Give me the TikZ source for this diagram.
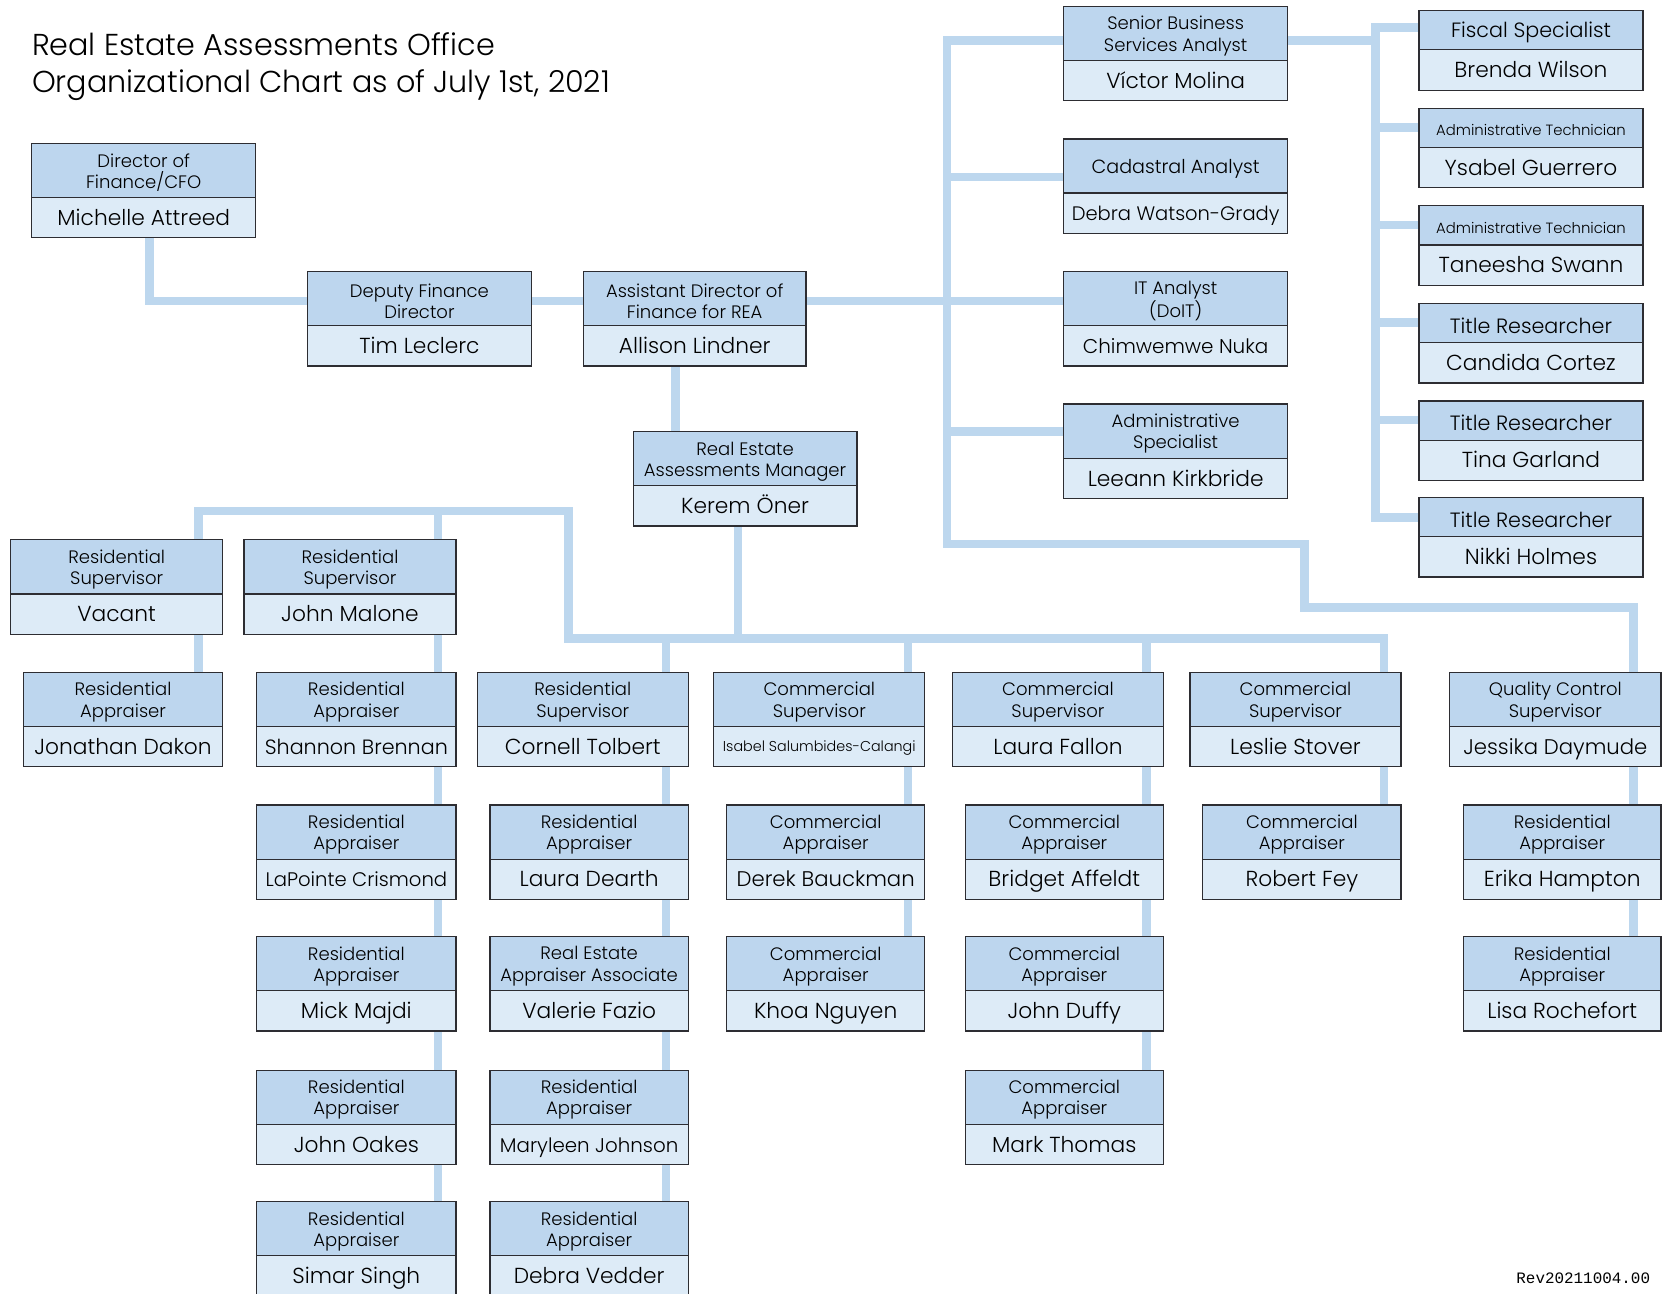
\documentclass[tikz,border=0pt]{standalone}
\usepackage{fontspec}
\setmainfont{Poppins Light}
\setmonofont{Liberation Mono}
\usetikzlibrary{fit}
\definecolor{connc}{RGB}{189,215,238}
\definecolor{titlefill}{RGB}{189,214,238}
\definecolor{namefill}{RGB}{221,235,247}
\definecolor{boxborder}{RGB}{45,45,50}
\newcommand\oTf{\fontsize{17}{20}\selectfont}
\newcommand\oNf{\fontsize{20.5}{22}\selectfont}
\newcommand\oSf{\fontsize{14}{15}\selectfont}
\newcommand\oBf{\fontsize{19.5}{21}\selectfont}
\newcommand\fsz[1]{\fontsize{#1}{#1}\selectfont}
\newcommand\orgbox[9]{%
  \fill[titlefill] (#2,#3) rectangle (#4,#6);
  \fill[namefill] (#2,#6) rectangle (#4,#5);
  \draw[boxborder, line width=1.1pt] (#2,#6) -- (#4,#6);
  \node[fit={(#2,#3) (#4,#5)}, draw=boxborder, line width=1.2pt, inner sep=0pt] (#1) {};
  \node[font=#7, align=center, inner sep=0pt, yshift=-2.5pt] (#1t) at ({(#2+#4)/2},{(#3+#6)/2}) {#8};
  \node[font=\oNf, inner sep=0pt, text height=14.5pt, text depth=0pt] (#1n) at ({(#2+#4)/2},{(#6+#5)/2}) {#9};
}
\begin{document}
\begin{tikzpicture}[x=1pt,y=-1pt,
  conn/.style={draw=connc, line width=8pt, line join=miter, line cap=rect}]
\useasboundingbox (0,0) rectangle (1568,1220);
\clip (0,0) rectangle (1568,1220);
\fill[white] (0,0) rectangle (1568,1220);

% coordinates for connector lines
\coordinate (c141) at (141,0);
\coordinate (cM) at (637,0);
\coordinate (cR) at (696,0);
\coordinate (cA) at (187,0);
\coordinate (cB) at (413,0);
\coordinate (cC) at (628,0);
\coordinate (cD) at (856,0);
\coordinate (cE) at (1081,0);
\coordinate (cF) at (1305,0);
\coordinate (cG) at (1540,0);
\coordinate (t1) at (893,38);
\coordinate (t2) at (893,167);
\coordinate (t3) at (893,407);
\coordinate (t4) at (893,513);
\coordinate (t5) at (1230,513);
\coordinate (t6) at (1230,573);
\coordinate (t7) at (1540,573);
\coordinate (r0) at (1297,38);
\coordinate (r1) at (1297,26);
\coordinate (r2) at (1297,120);
\coordinate (r3) at (1297,212);
\coordinate (r4) at (1297,304);
\coordinate (r5) at (1297,396);
\coordinate (r6) at (1297,488);
\coordinate (h1) at (187,482);
\coordinate (h2) at (536,482);
\coordinate (h3) at (536,602);
\coordinate (h4) at (1305,602);
\coordinate (m1) at (696,602);

% ---- boxes ----
\newcommand\allboxes{%
\orgbox{dir}{30}{135}{241}{224}{186}{\oTf}{Director of\\Finance/CFO}{Michelle Attreed}
\orgbox{dep}{290}{256}{501}{345}{307}{\oTf}{Deputy Finance\\Director}{Tim Leclerc}
\orgbox{ast}{550}{256}{760}{345}{307}{\oTf}{Assistant Director of\\Finance for REA}{Allison Lindner}
\orgbox{rem}{597}{407}{808}{496}{458}{\oTf}{Real Estate\\Assessments Manager}{Kerem Öner}
\orgbox{sba}{1003}{6}{1214}{95}{57}{\oTf}{Senior Business\\Services Analyst}{Víctor Molina}
\orgbox{cad}{1003}{131}{1214}{220}{182}{\fsz{18}}{Cadastral Analyst}{{\fsz{18.4}Debra Watson-Grady}}
\orgbox{ita}{1003}{256}{1214}{345}{307}{\oTf}{IT Analyst\\(DoIT)}{{\fsz{18.8}Chimwemwe Nuka}}
\orgbox{ads}{1003}{381}{1214}{470}{432}{\oTf}{Administrative\\Specialist}{Leeann Kirkbride}
\orgbox{fis}{1338}{10}{1549}{85}{47}{\oBf}{Fiscal Specialist}{Brenda Wilson}
\orgbox{atA}{1338}{102}{1549}{177}{139}{\oSf}{Administrative Technician}{Ysabel Guerrero}
\orgbox{atB}{1338}{194}{1549}{269}{231}{\oSf}{Administrative Technician}{Taneesha Swann}
\orgbox{trA}{1338}{286}{1549}{361}{323}{\oBf}{Title Researcher}{Candida Cortez}
\orgbox{trB}{1338}{378}{1549}{453}{415}{\oBf}{Title Researcher}{Tina Garland}
\orgbox{trC}{1338}{469}{1549}{544}{506}{\oBf}{Title Researcher}{Nikki Holmes}
\orgbox{vac}{10}{509}{210}{598}{560}{\oTf}{Residential\\Supervisor}{Vacant}
\orgbox{jm}{230}{509}{430}{598}{560}{\oTf}{Residential\\Supervisor}{John Malone}
\orgbox{jd}{22}{634}{210}{723}{685}{\oTf}{Residential\\Appraiser}{Jonathan Dakon}
\orgbox{sb}{242}{634}{430}{723}{685}{\oTf}{Residential\\Appraiser}{{\fsz{19.5}Shannon Brennan}}
\orgbox{ct}{450}{634}{649}{723}{685}{\oTf}{Residential\\Supervisor}{Cornell Tolbert}
\orgbox{isc}{673}{634}{872}{723}{685}{\oTf}{Commercial\\Supervisor}{{\fsz{13.5}\raisebox{2.5pt}{Isabel Salumbides-Calangi}}}
\orgbox{lf}{898}{634}{1097}{723}{685}{\oTf}{Commercial\\Supervisor}{Laura Fallon}
\orgbox{ls}{1122}{634}{1321}{723}{685}{\oTf}{Commercial\\Supervisor}{Leslie Stover}
\orgbox{qc}{1367}{634}{1566}{723}{685}{\oTf}{Quality Control\\Supervisor}{{\fsz{20}Jessika Daymude}}
\orgbox{lc}{242}{759}{430}{848}{810}{\oTf}{Residential\\Appraiser}{{\fsz{18.5}LaPointe Crismond}}
\orgbox{ld}{462}{759}{649}{848}{810}{\oTf}{Residential\\Appraiser}{Laura Dearth}
\orgbox{db}{685}{759}{872}{848}{810}{\oTf}{Commercial\\Appraiser}{{\fsz{20}Derek Bauckman}}
\orgbox{ba}{910}{759}{1097}{848}{810}{\oTf}{Commercial\\Appraiser}{Bridget Affeldt}
\orgbox{rf}{1134}{759}{1321}{848}{810}{\oTf}{Commercial\\Appraiser}{Robert Fey}
\orgbox{eh}{1380}{759}{1566}{848}{810}{\oTf}{Residential\\Appraiser}{Erika Hampton}
\orgbox{mm}{242}{883}{430}{972}{934}{\oTf}{Residential\\Appraiser}{Mick Majdi}
\orgbox{vf}{462}{883}{649}{972}{934}{\oTf}{Real Estate\\Appraiser Associate}{Valerie Fazio}
\orgbox{kn}{685}{883}{872}{972}{934}{\oTf}{Commercial\\Appraiser}{Khoa Nguyen}
\orgbox{jdu}{910}{883}{1097}{972}{934}{\oTf}{Commercial\\Appraiser}{John Duffy}
\orgbox{lr}{1380}{883}{1566}{972}{934}{\oTf}{Residential\\Appraiser}{Lisa Rochefort}
\orgbox{jo}{242}{1009}{430}{1098}{1060}{\oTf}{Residential\\Appraiser}{John Oakes}
\orgbox{mj}{462}{1009}{649}{1098}{1060}{\oTf}{Residential\\Appraiser}{{\fsz{18.7}Maryleen Johnson}}
\orgbox{mt}{910}{1009}{1097}{1098}{1060}{\oTf}{Commercial\\Appraiser}{Mark Thomas}
\orgbox{ss}{242}{1133}{430}{1222}{1184}{\oTf}{Residential\\Appraiser}{Simar Singh}
\orgbox{dv}{462}{1133}{649}{1222}{1184}{\oTf}{Residential\\Appraiser}{Debra Vedder}
}
% first pass: define node names invisibly
\begin{scope}[opacity=0]
\allboxes
\end{scope}

% ---- connectors ----
\draw[conn] (dir.south -| c141) |- (dep.west |- dept.center);
\draw[conn] (dep.east |- dept.center) -- (ast.west |- astt.center);
\draw[conn] (ast.east |- astt.center) -- (ita.west |- itat.center);
\draw[conn] (sba.west |- t1) -- (t1) -- (t4) -- (t5) -- (t6) -- (t7) -- (qc.north -| t7);
\draw[conn] (t2) -- (cad.west |- t2);
\draw[conn] (t3) -- (ads.west |- t3);
\draw[conn] (sba.east |- r0) -- (r0);
\draw[conn] (fis.west |- r1) -- (r1) -- (r6) -- (trC.west |- r6);
\draw[conn] (r2) -- (atA.west |- r2);
\draw[conn] (r3) -- (atB.west |- r3);
\draw[conn] (r4) -- (trA.west |- r4);
\draw[conn] (r5) -- (trB.west |- r5);
\draw[conn] (ast.south -| cM) -- (rem.north -| cM);
\draw[conn] (rem.south -| cR) -- (m1);
\draw[conn] (vac.north -| h1) -- (h1) -- (h2) -- (h3) -- (h4) -- (ls.north -| h4);
\draw[conn] (h1 -| cB) -- (jm.north -| cB);
\draw[conn] (h3 -| cC) -- (ct.north -| cC);
\draw[conn] (h3 -| cD) -- (isc.north -| cD);
\draw[conn] (h3 -| cE) -- (lf.north -| cE);
\draw[conn] (vac.south -| cA) -- (jd.north -| cA);
\draw[conn] (jm.south -| cB) -- (ss.north -| cB);
\draw[conn] (ct.south -| cC) -- (dv.north -| cC);
\draw[conn] (isc.south -| cD) -- (kn.north -| cD);
\draw[conn] (lf.south -| cE) -- (mt.north -| cE);
\draw[conn] (ls.south -| cF) -- (rf.north -| cF);
\draw[conn] (qc.south -| cG) -- (lr.north -| cG);

% ---- boxes on top ----
\allboxes

% ---- title ----
\node[anchor=west, font=\fontsize{28.5}{30}\selectfont, inner sep=0pt] (title1) at (30,42) {Real Estate Assessments Office};
\node[anchor=west, font=\fontsize{28.5}{30}\selectfont, inner sep=0pt] (title2) at (30,80) {Organizational Chart as of July 1st, 2021};
\node[anchor=east, font=\ttfamily\fontsize{15}{17}\selectfont, inner sep=0pt] (rev) at (1556,1205) {Rev20211004.00};
\end{tikzpicture}
\end{document}
